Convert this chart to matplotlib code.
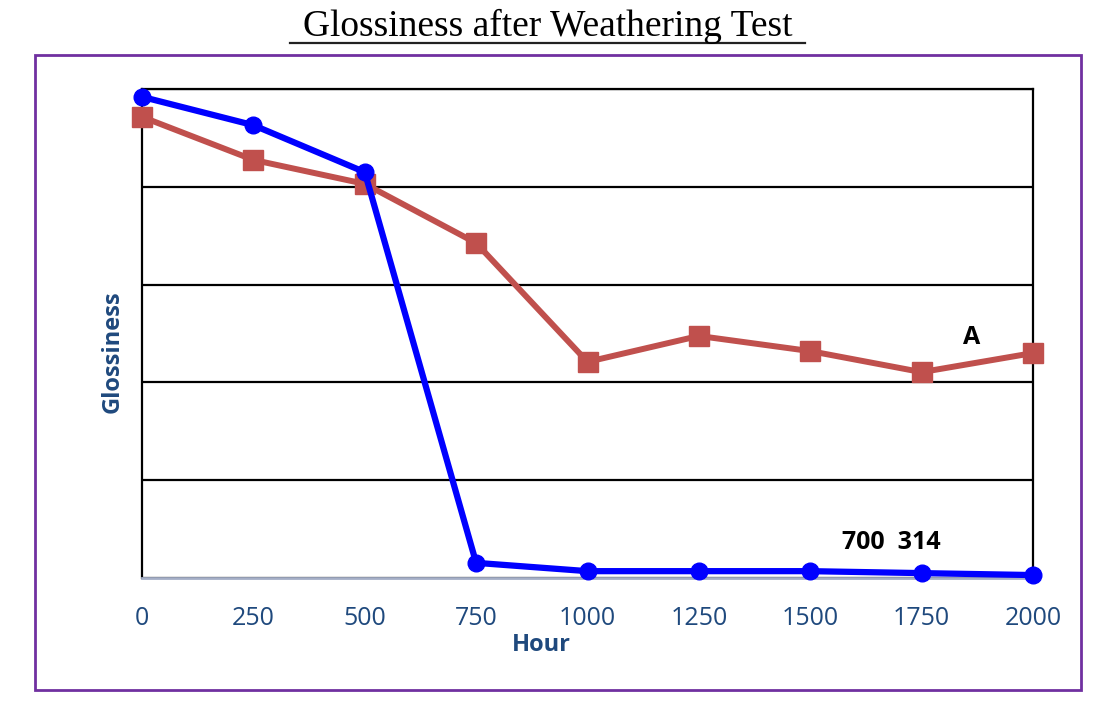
import matplotlib
matplotlib.use("Agg")
import matplotlib.pyplot as plt
from matplotlib.patches import Rectangle
from matplotlib.lines import Line2D

hours = [0, 250, 500, 750, 1000, 1250, 1500, 1750, 2000]
series_blue = [98.4, 92.6, 83.0, 3.1, 1.4, 1.4, 1.4, 1.0, 0.6]
series_red = [94.3, 85.5, 80.6, 68.5, 44.2, 49.5, 46.4, 42.1, 46.0]
tick_labels = [str(h) for h in hours]
title = "Glossiness after Weathering Test"

fig = plt.figure(figsize=(11.03, 7.07), dpi=100)
fig.patch.set_facecolor("white")

# purple frame
fig.add_artist(Rectangle((35/1103, 17/707), (1081-35)/1103, (690-55)/707,
                         transform=fig.transFigure, fill=False,
                         edgecolor="#7030A0", linewidth=2))

# title with underline
fig.text(548/1103, 1 - 26/707, title, ha="center", va="center",
         fontsize=27, family="Liberation Serif", color="black")
fig.add_artist(Line2D([290/1103, 805/1103], [1 - 43/707, 1 - 43/707],
                      transform=fig.transFigure, color="#222222", linewidth=1.6))

ax = fig.add_axes([142/1103, 129/707, 891/1103, 489/707])
ax.set_xlim(0, 2000)
ax.set_ylim(0, 100)

ax.set_yticks([0, 20, 40, 60, 80, 100])
ax.set_yticklabels([])
ax.yaxis.grid(True, color="black", linewidth=1.6)
ax.set_axisbelow(True)
ax.tick_params(axis="y", length=0)
ax.set_xticks(hours)
ax.set_xticklabels(tick_labels, fontsize=18, family="Open Sans", color="#1F497D")
ax.tick_params(axis="x", length=0, pad=20)

for s in ["left", "right", "top"]:
    ax.spines[s].set_color("black")
    ax.spines[s].set_linewidth(1.6)
ax.spines["bottom"].set_color("#A4AEC6")
ax.spines["bottom"].set_linewidth(2)

ax.plot(hours, series_red, color="#C0504D", linewidth=4.3, marker="s",
        markersize=15, clip_on=False, zorder=3)
ax.plot(hours, series_blue, color="#0000FF", linewidth=4.5, marker="o",
        markersize=12, clip_on=False, zorder=4)

ax.text(1863, 49.1, "A", ha="center", va="center", fontsize=18,
        fontweight="bold", family="Open Sans", color="black")
ax.text(1681, 7.2, "700  314", ha="center", va="center", fontsize=18,
        fontweight="bold", family="Open Sans", color="black")

ax.text((113-142)/891, (578-352)/489, "Glossiness", transform=ax.transAxes, rotation=90,
        ha="center", va="center", fontsize=17, fontweight="bold",
        family="Open Sans", color="#1F497D")
ax.text((541-142)/891, (578-645)/489, "Hour", transform=ax.transAxes,
        ha="center", va="center", fontsize=17, fontweight="bold",
        family="Open Sans", color="#1F497D")

fig.savefig("out.png", dpi=100)
